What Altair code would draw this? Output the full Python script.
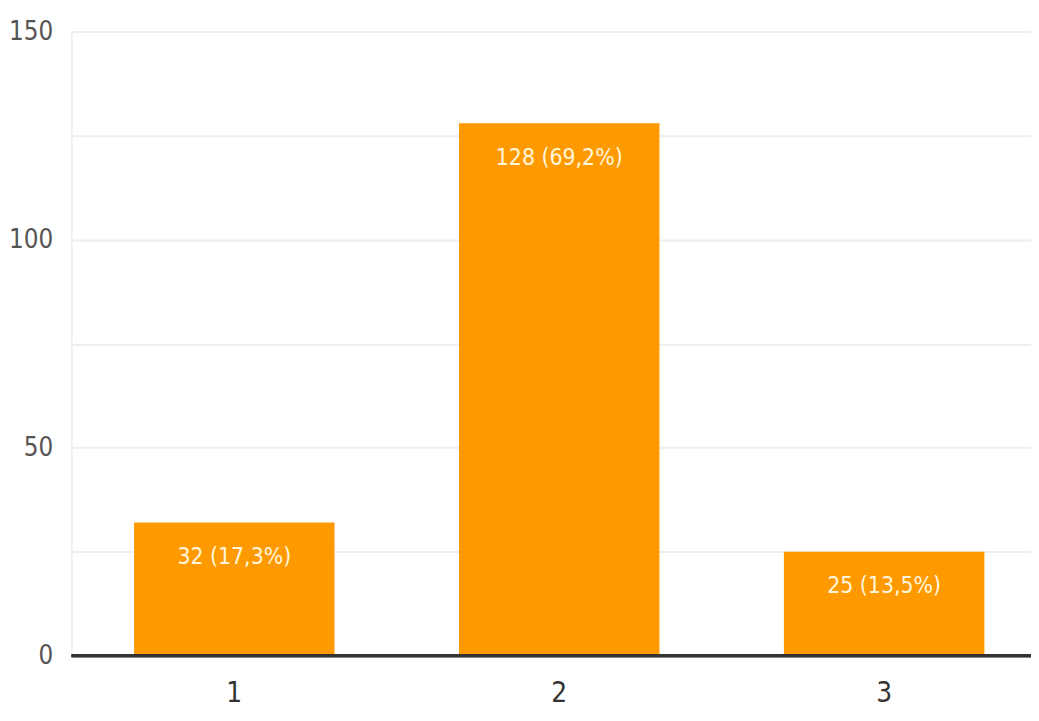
import altair as alt
import pandas as pd

categories = ["1", "2", "3"]
counts = [32, 128, 25]
labels = ["32 (17,3%)", "128 (69,2%)", "25 (13,5%)"]

df = pd.DataFrame({"cat": categories, "count": counts, "label": labels})

FONT = "DejaVu Sans Condensed, Liberation Sans Narrow, Roboto, sans-serif"

x = alt.X("cat:N", sort=categories, title=None,
          scale=alt.Scale(paddingInner=0.383, paddingOuter=0.168, align=0.573),
          axis=alt.Axis(labelAngle=0, labelFontSize=28, labelColor="#333333",
                        labelFont=FONT, labelPadding=24, ticks=False,
                        domain=False, grid=False))
y = alt.Y("count:Q", title=None,
          scale=alt.Scale(domain=[0, 150], nice=False),
          axis=alt.Axis(values=[0, 25, 50, 75, 100, 125, 150],
                        labelExpr="datum.value % 50 === 0 ? datum.label : ''",
                        labelFontSize=26, labelColor="#555555", labelFont=FONT,
                        labelPadding=19, ticks=False, domain=True,
                        domainColor="#f2f2f2", domainWidth=2,
                        grid=True, gridColor="#eeeeee", gridWidth=2))

bars = alt.Chart(df).mark_bar(color="#ff9900").encode(x=x, y=y)

text = alt.Chart(df).mark_text(
    baseline="middle", dy=35, fontSize=23, font=FONT, color="#fff6dc"
).encode(x=alt.X("cat:N", sort=categories), y="count:Q", text="label:N")

zero = alt.Chart(df).mark_rule(color="#333333", strokeWidth=3).encode(
    y=alt.datum(0))

chart = alt.layer(bars, text, zero).properties(
    width=967, height=629,
    autosize=alt.AutoSizeParams(type="none"),
    padding={"left": 64, "top": 21, "right": 0, "bottom": 62},
).configure_view(stroke=None)

chart.save("out.html", embed_options={"renderer": "svg", "actions": False})
